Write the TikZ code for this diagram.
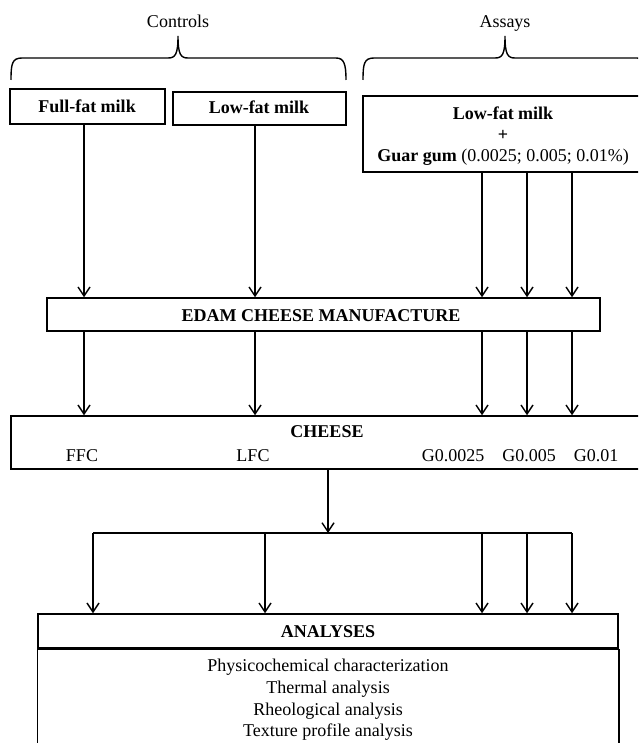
\documentclass[tikz,border=0pt]{standalone}
\usepackage{fontspec}
\setmainfont{Liberation Serif}
\usetikzlibrary{arrows.meta}
\begin{document}
\begin{tikzpicture}[x=1pt,y=-1pt,
  font=\fontsize{18}{21}\selectfont,
  box/.style={draw, line width=1.5pt, inner sep=0pt},
  arr/.style={line width=1.4pt, -{Straight Barb[length=9pt,width=12pt,line width=1.4pt]}},
  plain/.style={line width=1.4pt},
  bracepath/.style={line width=1.4pt},
  lbl/.style={inner sep=0pt, anchor=base},
  blbl/.style={inner sep=0pt, anchor=base, font=\fontsize{18}{21}\selectfont\bfseries}]
\path[use as bounding box] (0,0) rectangle (638,743);
\clip (0,0) rectangle (638,743);

% group labels
\node[lbl] (ctl) at (178,28) {Controls};
\node[lbl] (asy) at (505,28) {Assays};

% braces
\draw[bracepath] (11,80) .. controls (11,64) and (12,58) .. (22,58) -- (168,58)
  .. controls (175,58) and (178,55) .. (178,36)
  .. controls (178,55) and (181,58) .. (188,58) -- (336,58)
  .. controls (344,58) and (346,64) .. (346,80);
\draw[bracepath] (363,80) .. controls (363,64) and (364,58) .. (374,58) -- (495,58)
  .. controls (502,58) and (505,55) .. (505,36)
  .. controls (505,55) and (508,58) .. (515,58) -- (637,58)
  .. controls (645,58) and (647,64) .. (647,80);

% top boxes
\node[box, minimum width=155, minimum height=35] (ffm) at (87.5,106.5) {};
\node[blbl] (ffmt) at (87,113) {Full-fat milk};
\node[box, minimum width=173, minimum height=33] (lfm) at (259.5,108.5) {};
\node[blbl] (lfmt) at (259,114) {Low-fat milk};
\node[box, minimum width=284, minimum height=76] (gum) at (505,134) {};
\node[blbl] (gumt1) at (503,120) {Low-fat milk};
\node[blbl] (gumt2) at (503,141) {+};
\node[lbl] (gumt3) at (503,162) {\textbf{Guar gum} (0.0025; 0.005; 0.01\%)};

% manufacture
\node[box, minimum width=553, minimum height=33] (edam) at (323.5,314.5) {};
\node[blbl] (edamt) at (321,321) {EDAM CHEESE MANUFACTURE};

% cheese
\node[box, minimum width=632, minimum height=53] (cheese) at (327,442.5) {};
\node[blbl] (cheeset) at (327,437) {CHEESE};
\node[lbl] (ffc) at (82,461) {FFC};
\node[lbl] (lfc) at (253,461) {LFC};
\node[lbl] (g1) at (453,461) {G0.0025};
\node[lbl] (g2) at (529,461) {G0.005};
\node[lbl] (g3) at (596,461) {G0.01};

% analyses
\node[box, minimum width=580, minimum height=34] (ana) at (328,631) {};
\node[blbl] (anat) at (328,637) {ANALYSES};
\draw[line width=1.5pt] (ana.south west) -- ++(0,130);
\draw[line width=1.5pt] (ana.south east) -- ++(0,130);
\draw[line width=2.6pt] (ana.south west) -- (ana.south east);
\node[lbl] (b1) at (328,671) {Physicochemical characterization};
\node[lbl] (b2) at (328,693) {Thermal analysis};
\node[lbl] (b3) at (328,715) {Rheological analysis};
\node[lbl] (b4) at (328,736) {Texture profile analysis};

% column coordinates
\coordinate (k1) at (84,0);
\coordinate (k2) at (255,0);
\coordinate (k3) at (482,0);
\coordinate (k4) at (527,0);
\coordinate (k5) at (572,0);
\coordinate (m1) at (93,0);
\coordinate (m2) at (265,0);
\coordinate (stem) at (328,0);
\coordinate (bar) at (0,533);

% inputs to manufacture
\draw[arr] (ffm.south -| k1) -- (edam.north -| k1);
\draw[arr] (lfm.south -| k2) -- (edam.north -| k2);
\draw[arr] (gum.south -| k3) -- (edam.north -| k3);
\draw[arr] (gum.south -| k4) -- (edam.north -| k4);
\draw[arr] (gum.south -| k5) -- (edam.north -| k5);

% manufacture to cheese
\foreach \k in {k1,k2,k3,k4,k5}
  \draw[arr] (edam.south -| \k) -- (cheese.north -| \k);

% cheese to distribution bar
\draw[arr] (cheese.south -| stem) -- (bar -| stem);
\draw[plain] (bar -| m1) -- (bar -| k5);

% bar to analyses
\foreach \k in {m1,m2,k3,k4,k5}
  \draw[arr] (bar -| \k) -- (ana.north -| \k);
\end{tikzpicture}
\end{document}
